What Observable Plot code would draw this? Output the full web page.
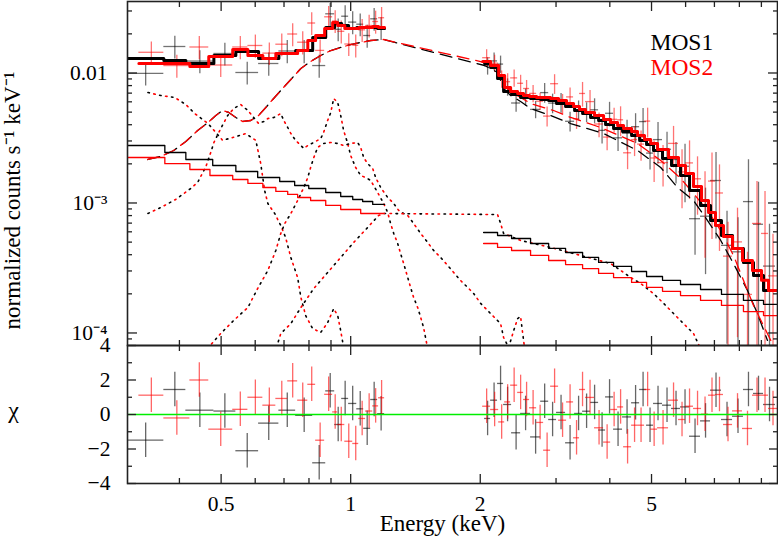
<!DOCTYPE html>
<html><head><meta charset="utf-8">
<script src="https://cdn.jsdelivr.net/npm/d3@7"></script>
<script src="https://cdn.jsdelivr.net/npm/@observablehq/plot@0.6"></script>
<style>
body{margin:0;background:#fff;}
#wrap{position:relative;width:778px;height:540px;overflow:hidden;background:#fff;}
#wrap svg{position:absolute;left:0;overflow:visible;}
#wrap svg, #wrap svg text{font-family:"Liberation Serif","Times New Roman",serif !important;}
</style></head><body><div id="wrap"></div>
<script>
// ---------- axis ticks ----------
const xMajor = [0.5, 1, 2, 5];
const xMinor = [0.4, 0.6, 0.7, 0.8, 0.9, 3, 4, 6, 7, 8, 9];
const yMajorTop = [0.0001, 0.001, 0.01];
const yMinorTop = [0.00009, 0.0002, 0.0003, 0.0004, 0.0005, 0.0006, 0.0007, 0.0008, 0.0009,
  0.002, 0.003, 0.004, 0.005, 0.006, 0.007, 0.008, 0.009, 0.02, 0.03];
const yTopLabels = {"0.0001": "10⁻⁴", "0.001": "10⁻³", "0.01": "0.01"};
const yMajorBot = [-4, -2, 0, 2, 4];
const yMinorBot = [-3, -1, 1, 3];

// ---------- MOS1 data, soft band ----------
const m1LoEdges = [0.303, 0.368, 0.414, 0.481, 0.541, 0.611, 0.681, 0.745, 0.816, 0.875, 0.918, 0.953, 0.989, 1.033, 1.072, 1.113, 1.155, 1.199];
const m1LoModel = [0.01293, 0.01248, 0.01183, 0.01363, 0.01464, 0.01293, 0.01413, 0.01489, 0.01875, 0.02239, 0.02403, 0.02319, 0.02199, 0.02239, 0.02239, 0.02239, 0.02199];
const m1LoRate = [0.00993, 0.01599, 0.01235, 0.01413, 0.01009, 0.01183, 0.01477, 0.01477, 0.01141, 0.02853, 0.02169, 0.02734, 0.02463, 0.02373, 0.01943, 0.02611, 0.02219];
const m1LoErr = [0.0020, 0.0032, 0.0025, 0.0028, 0.0020, 0.0024, 0.0030, 0.0030, 0.0023, 0.0057, 0.0043, 0.0055, 0.0049, 0.0047, 0.0039, 0.0052, 0.0044];
const m1LoChi = [-1.49, 1.45, 0.25, 0.2, -2.1, -0.5, 0.25, -0.05, -2.8, 1.37, -0.58, 0.93, 0.64, 0.33, -0.8, 0.87, 0.05];

// ---------- MOS2 data, soft band ----------
const m2LoEdges = [0.322, 0.368, 0.423, 0.468, 0.532, 0.577, 0.625, 0.670, 0.714, 0.753, 0.795, 0.829, 0.870, 0.908, 0.933, 0.969, 1.011, 1.044, 1.083, 1.125, 1.161, 1.199];
const m2LoModel = [0.01183, 0.01183, 0.01122, 0.01339, 0.01516, 0.01363, 0.01293, 0.01413, 0.01413, 0.01489, 0.01778, 0.01943, 0.02199, 0.02446, 0.02319, 0.02199, 0.02199, 0.02239, 0.02239, 0.02279, 0.02239];
const m2LoRate = [0.01443, 0.01141, 0.01585, 0.01152, 0.01585, 0.01628, 0.01422, 0.01665, 0.01995, 0.01725, 0.02424, 0.01492, 0.02706, 0.02512, 0.02093, 0.01671, 0.01633, 0.02149, 0.02319, 0.02489, 0.02661];
const m2LoErr = [0.0029, 0.0023, 0.0032, 0.0023, 0.0032, 0.0033, 0.0028, 0.0033, 0.0040, 0.0035, 0.0048, 0.0030, 0.0054, 0.0050, 0.0042, 0.0033, 0.0033, 0.0043, 0.0046, 0.0050, 0.0053];
const m2LoChi = [1.12, -0.2, 2.0, -0.85, 0.3, 1.0, 0.54, 0.93, 1.95, 0.83, 1.75, -1.49, 1.17, 0.15, -0.58, -1.55, -1.68, -0.23, 0.2, 0.5, 0.97];

// ---------- MOS1 data, hard band ----------
const m1HiEdges = [2.047, 2.114, 2.194, 2.266, 2.365, 2.482, 2.618, 2.763, 2.884, 3.008, 3.157, 3.313, 3.458, 3.609, 3.767, 3.910, 4.081, 4.282, 4.494, 4.691, 4.869, 5.054, 5.303, 5.565, 5.839, 6.128, 6.499, 6.857, 7.270, 7.713, 8.177, 8.628, 9.103, 9.706];
const m1HiModel = [0.01183, 0.01102, 0.009074, 0.007207, 0.006833, 0.006478, 0.006365, 0.006255, 0.006142, 0.005826, 0.005527, 0.005146, 0.004882, 0.004547, 0.004311, 0.004016, 0.003741, 0.003548, 0.003305, 0.003026, 0.002818, 0.002534, 0.002199, 0.001943, 0.001627, 0.001248, 0.000957, 0.000733, 0.000562, 0.000447, 0.000349, 0.000277, 0.000212];
const m1HiRate = [0.01136, 0.01239, 0.01171, 0.007817, 0.005877, 0.006536, 0.005248, 0.007066, 0.005866, 0.005938, 0.004251, 0.005192, 0.005028, 0.005210, 0.003619, 0.004898, 0.003171, 0.003437, 0.003862, 0.004228, 0.002420, 0.003074, 0.002589, 0.002161, 0.001915, 0.000757, 0.000791, 0.001489, 0.000472, 0.000421, 0.001025, 0.000686, 0.000327];
const m1HiErr = [0.00173, 0.00188, 0.00178, 0.00119, 0.00089, 0.00099, 0.00080, 0.00122, 0.00101, 0.00103, 0.00074, 0.00090, 0.00087, 0.00112, 0.00078, 0.00105, 0.00068, 0.00089, 0.00100, 0.00110, 0.00063, 0.00108, 0.00091, 0.00076, 0.00091, 0.00036, 0.00051, 0.00096, 0.00039, 0.00035, 0.00113, 0.00076, 0.00036];
const m1HiChi = [-0.23, 0.83, 1.8, 0.58, -1.06, 0.06, -1.3, 0.77, -0.29, 0.12, -1.64, 0.06, 0.19, 0.7, -0.9, 1.02, -0.85, -0.14, 0.68, 1.45, -0.62, 0.64, 0.54, 0.35, 0.44, -1.26, -0.37, 1.41, -0.29, -0.1, 1.45, 1.22, 0.58];

// ---------- MOS2 data, hard band ----------
const m2HiEdges = [2.026, 2.114, 2.207, 2.279, 2.353, 2.443, 2.522, 2.604, 2.704, 2.807, 2.914, 3.041, 3.174, 3.295, 3.402, 3.513, 3.686, 3.869, 4.018, 4.170, 4.306, 4.494, 4.640, 4.817, 4.978, 5.164, 5.477, 5.777, 5.998, 6.260, 6.534, 6.783, 7.040, 7.348, 7.713, 8.134, 8.582, 9.006, 9.350, 9.810];
const m2HiModel = [0.01226, 0.01142, 0.009567, 0.007735, 0.007207, 0.006958, 0.006713, 0.006595, 0.006478, 0.006478, 0.006365, 0.006142, 0.005826, 0.005527, 0.005240, 0.004970, 0.004710, 0.004388, 0.004160, 0.003946, 0.003741, 0.003548, 0.003305, 0.003080, 0.002869, 0.002580, 0.002239, 0.001943, 0.001686, 0.001339, 0.001045, 0.000845, 0.000671, 0.000553, 0.000447, 0.000361, 0.000303, 0.000254, 0.000212];
const m2HiRate = [0.01311, 0.01189, 0.009008, 0.008572, 0.009170, 0.008332, 0.007600, 0.006967, 0.006066, 0.004660, 0.008273, 0.005826, 0.006548, 0.004450, 0.006958, 0.006026, 0.004052, 0.003213, 0.004403, 0.004365, 0.002433, 0.003074, 0.002838, 0.004266, 0.002219, 0.002045, 0.002873, 0.001734, 0.002034, 0.001535, 0.001056, 0.001474, 0.001194, 0.000390, 0.000502, 0.000198, 0.000696, 0.000583, 0.000275];
const m2HiErr = [0.00199, 0.00181, 0.00137, 0.00130, 0.00139, 0.00127, 0.00116, 0.00106, 0.00092, 0.00081, 0.00143, 0.00101, 0.00113, 0.00077, 0.00150, 0.00130, 0.00087, 0.00069, 0.00095, 0.00113, 0.00063, 0.00080, 0.00074, 0.00110, 0.00078, 0.00072, 0.00101, 0.00083, 0.00097, 0.00073, 0.00068, 0.00095, 0.00077, 0.00032, 0.00041, 0.00022, 0.00077, 0.00064, 0.00030];
const m2HiChi = [0.48, 0.29, -0.43, 0.73, 1.7, 1.28, 0.87, 0.39, -0.46, -2.07, 1.64, -0.33, 0.73, -1.35, 1.45, 0.99, -0.77, -1.6, 0.29, 0.44, -1.87, -0.62, -0.62, 1.45, -0.85, -0.77, 0.83, -0.29, 0.48, 0.35, 0.02, 1.12, 1.16, -0.58, 0.21, -0.81, 1.12, 1.12, 0.35];

// ---------- power-law components (thin solid steps) ----------
const plM1LoEdges = [0.303, 0.370, 0.414, 0.478, 0.541, 0.608, 0.684, 0.741, 0.799, 0.875, 0.948, 1.011, 1.066, 1.125, 1.199];
const plM1LoVals = [0.002769, 0.002446, 0.002161, 0.001943, 0.001747, 0.001571, 0.001463, 0.001363, 0.001293, 0.001204, 0.001122, 0.001064, 0.001027, 0.000974];
const plM2LoEdges = [0.303, 0.370, 0.423, 0.471, 0.532, 0.577, 0.625, 0.670, 0.714, 0.753, 0.807, 0.875, 0.948, 1.055, 1.199];
const plM2LoVals = [0.002239, 0.002007, 0.001810, 0.001627, 0.001516, 0.001413, 0.001316, 0.001227, 0.001163, 0.001102, 0.001045, 0.000957, 0.000891, 0.000830];
const plHiEdges = [2.036, 2.194, 2.365, 2.618, 2.884, 3.157, 3.458, 3.767, 4.081, 4.494, 4.869, 5.303, 5.839, 6.499, 7.270, 8.177, 9.103, 9.810];
const plM1HiVals = [0.000593, 0.000562, 0.000533, 0.000488, 0.000447, 0.000416, 0.000381, 0.000349, 0.000325, 0.000297, 0.000272, 0.000254, 0.000236, 0.000216, 0.000198, 0.000178, 0.000166];
const plM2HiVals = [0.000488, 0.000455, 0.000431, 0.000395, 0.000361, 0.000336, 0.000313, 0.000287, 0.000267, 0.000245, 0.000224, 0.000209, 0.000194, 0.000178, 0.000163, 0.000146, 0.000136];

// ---------- hot thermal component (dashed): [energy, value] ----------
const hotLo = [[0.338, 0.002161], [0.362, 0.002279], [0.388, 0.002534], [0.414, 0.002972], [0.441, 0.003612], [0.466, 0.004160], [0.486, 0.004710], [0.504, 0.005146], [0.521, 0.004970], [0.541, 0.004547], [0.561, 0.004235], [0.586, 0.004311], [0.611, 0.004710], [0.635, 0.005428], [0.659, 0.006255], [0.688, 0.007336], [0.726, 0.008913], [0.766, 0.010830], [0.807, 0.012260], [0.852, 0.013630], [0.899, 0.014890], [0.948, 0.015710], [1.0, 0.016560], [1.055, 0.017170], [1.113, 0.017780], [1.193, 0.018100]];
const hotHiM1 = [[2.047, 0.011420], [2.194, 0.010090], [2.266, 0.007600], [2.353, 0.006713], [2.482, 0.006036], [2.618, 0.005331], [2.914, 0.004710], [3.244, 0.004087], [3.869, 0.003424], [4.640, 0.002534], [5.252, 0.001875], [5.747, 0.001316], [6.260, 0.001045], [6.748, 0.000733], [7.241, 0.000515], [7.752, 0.000342], [8.356, 0.000212], [8.814, 0.000141], [9.298, 0.0000876]];
const hotHiM2 = [[2.047, 0.012040], [2.194, 0.010640], [2.266, 0.008155], [2.353, 0.007207], [2.618, 0.005826], [2.961, 0.005146], [3.244, 0.004547], [3.809, 0.003808], [4.640, 0.002869], [5.252, 0.002123], [5.845, 0.001543], [6.260, 0.001183], [6.748, 0.000876], [7.241, 0.000614], [7.752, 0.000395], [8.177, 0.000254], [8.628, 0.000163], [9.465, 0.0000876]];

// ---------- soft thermal components (dotted): [energy, value] ----------
const compLHB = [[0.338, 0.00708], [0.362, 0.00671], [0.390, 0.00648], [0.414, 0.00572], [0.434, 0.00488], [0.466, 0.00409], [0.486, 0.00349], [0.504, 0.00303], [0.532, 0.00319], [0.570, 0.00342], [0.602, 0.00303], [0.618, 0.00201], [0.631, 0.00125], [0.642, 0.000991], [0.666, 0.000830], [0.688, 0.000671], [0.706, 0.000543], [0.726, 0.000381], [0.753, 0.000267], [0.766, 0.000188], [0.786, 0.000136], [0.816, 0.000108], [0.852, 0.000101], [0.884, 0.000120], [0.913, 0.000154], [0.933, 0.000136], [0.948, 0.000104], [0.968, 0.00007]];
const compMWH = [[0.338, 0.000830], [0.362, 0.000923], [0.392, 0.001064], [0.425, 0.001293], [0.441, 0.001438], [0.461, 0.001909], [0.473, 0.002446], [0.481, 0.002920], [0.499, 0.003741], [0.518, 0.004710], [0.535, 0.005331], [0.555, 0.005723], [0.577, 0.005146], [0.595, 0.004547], [0.611, 0.004087], [0.628, 0.004235], [0.642, 0.004467], [0.663, 0.004547], [0.688, 0.004882], [0.699, 0.004311], [0.714, 0.003808], [0.726, 0.003424], [0.745, 0.003029], [0.766, 0.002769], [0.778, 0.002626], [0.795, 0.002769], [0.821, 0.002920], [0.852, 0.003134], [0.865, 0.003490], [0.884, 0.004311], [0.899, 0.004970], [0.913, 0.006365], [0.933, 0.005930], [0.948, 0.004710], [0.963, 0.003612], [0.984, 0.002869], [1.0, 0.002319], [1.027, 0.001875], [1.055, 0.001627], [1.083, 0.001571], [1.113, 0.001489], [1.155, 0.001204], [1.193, 0.000991], [1.219, 0.000845], [1.238, 0.000696], [1.259, 0.000583], [1.286, 0.000488], [1.306, 0.000409], [1.328, 0.000342], [1.357, 0.000267], [1.378, 0.000224], [1.400, 0.000188], [1.431, 0.000157], [1.454, 0.000132], [1.477, 0.000110], [1.517, 0.00007]];
const compHalo = [[0.465, 0.000076], [0.499, 0.0000991], [0.535, 0.000125], [0.577, 0.000157], [0.608, 0.000220], [0.642, 0.000303], [0.670, 0.000431], [0.688, 0.000583], [0.703, 0.000696], [0.726, 0.000830], [0.753, 0.001045], [0.778, 0.001316], [0.795, 0.001571], [0.807, 0.001875], [0.821, 0.002239], [0.838, 0.002673], [0.865, 0.002869], [0.899, 0.002920], [0.933, 0.002869], [0.963, 0.002769], [1.0, 0.002869], [1.038, 0.002920], [1.055, 0.002673], [1.072, 0.002239], [1.095, 0.002007], [1.125, 0.001842], [1.143, 0.001571], [1.174, 0.001316], [1.219, 0.001102], [1.259, 0.000991], [1.293, 0.000876], [1.328, 0.000830], [1.357, 0.000801], [1.400, 0.000696], [1.454, 0.000583], [1.510, 0.000497], [1.559, 0.000431], [1.618, 0.000381], [1.680, 0.000331], [1.735, 0.000292], [1.801, 0.000253], [1.870, 0.000224], [1.931, 0.000201], [2.004, 0.000169], [2.114, 0.000141], [2.230, 0.000118], [2.266, 0.0000923], [2.328, 0.0000775], [2.391, 0.000104], [2.443, 0.000129], [2.482, 0.000134], [2.508, 0.000101], [2.536, 0.000076]];
const compWarm = [[0.666, 0.00007], [0.688, 0.0000991], [0.726, 0.000118], [0.766, 0.000157], [0.821, 0.000220], [0.884, 0.000292], [0.948, 0.000381], [1.016, 0.000497], [1.095, 0.000648], [1.161, 0.000801], [1.193, 0.000830], [2.194, 0.000815], [2.230, 0.000696], [2.266, 0.000583], [2.482, 0.000515], [2.914, 0.000455], [3.422, 0.000395], [4.018, 0.000342], [4.239, 0.000303], [4.473, 0.000267], [4.718, 0.000240], [5.054, 0.000201], [5.334, 0.000169], [5.627, 0.000141], [5.935, 0.000118], [6.260, 0.0000991], [6.570, 0.00007]];

// ---------- helpers ----------
const FONT = "'Liberation Serif', 'Times New Roman', serif";
const xDomain = [0.303, 9.81];
const steps = (edges, vals) => edges.map((e, i) => ({x: e, y: vals[Math.min(i, vals.length - 1)]}));
const bins = (edges, rate, err, chi) => rate.map((r, i) => ({lo: edges[i], hi: edges[i + 1], x: Math.sqrt(edges[i] * edges[i + 1]), rate: r, err: err[i], chi: chi[i]}));
const m1Lo = bins(m1LoEdges, m1LoRate, m1LoErr, m1LoChi);
const m2Lo = bins(m2LoEdges, m2LoRate, m2LoErr, m2LoChi);
const m1Hi = bins(m1HiEdges, m1HiRate, m1HiErr, m1HiChi);
const m2Hi = bins(m2HiEdges, m2HiRate, m2HiErr, m2HiChi);
const BLK = "#000", RED = "#ff0000";
const AX = "#222";

function crossesTop(data, color) {
  return [
    Plot.ruleY(data, {y: "rate", x1: "lo", x2: "hi", stroke: color, strokeOpacity: 0.55, strokeWidth: 1.3, clip: true}),
    Plot.ruleX(data, {x: "x", y1: d => Math.max(d.rate - d.err, 1e-7), y2: d => d.rate + d.err, stroke: color, strokeOpacity: 0.55, strokeWidth: 1.3, clip: true})
  ];
}
function crossesBot(data, color) {
  return [
    Plot.ruleY(data, {y: "chi", x1: "lo", x2: "hi", stroke: color, strokeOpacity: 0.6, strokeWidth: 1.3, clip: true}),
    Plot.ruleX(data, {x: "x", y1: d => d.chi - 1, y2: d => d.chi + 1, stroke: color, strokeOpacity: 0.6, strokeWidth: 1.3, clip: true})
  ];
}
const stepLine = (edges, vals, color, w) => Plot.line(steps(edges, vals), {x: "x", y: "y", curve: "step-after", stroke: color, strokeWidth: w, clip: true});
const dotted = (arr, color, off) => Plot.line(arr, {x: d => d[0], y: d => d[1], stroke: color, strokeWidth: 1.6, strokeDasharray: "1.5,10.5", strokeDashoffset: off, clip: true});
const dashed = (arr, color, off) => Plot.line(arr, {x: d => d[0], y: d => d[1], stroke: color, strokeWidth: 1.3, strokeDasharray: "12,7", strokeDashoffset: off, clip: true});
const blank = () => "";

function xTicks() {
  const o = {stroke: AX, strokeWidth: 1.3, label: null, tickFormat: blank};
  return [
    Plot.axisX(xMajor, {...o, anchor: "top", tickSize: -9}),
    Plot.axisX(xMinor, {...o, anchor: "top", tickSize: -5}),
    Plot.axisX(xMinor, {...o, anchor: "bottom", tickSize: -5})
  ];
}

// ---------- upper panel ----------
const topPlot = Plot.plot({
  width: 778, height: 345, marginLeft: 127, marginRight: 1, marginTop: 1, marginBottom: 0,
  style: {fontFamily: FONT, fontSize: "21px", background: "transparent", overflow: "visible"},
  x: {type: "log", domain: xDomain},
  y: {type: "log", domain: [0.0000801, 0.03548]},
  marks: [
    ...crossesTop(m1Lo, BLK), ...crossesTop(m1Hi, BLK),
    ...crossesTop(m2Lo, RED), ...crossesTop(m2Hi, RED),
    dotted(compLHB, BLK, 0), dotted(compLHB, RED, 6),
    dotted(compMWH, BLK, 0), dotted(compMWH, RED, 6),
    dotted(compHalo, BLK, 0), dotted(compHalo, RED, 6),
    dotted(compWarm, BLK, 0), dotted(compWarm, RED, 6),
    dashed(hotLo.concat(hotHiM1), BLK, 0), dashed(hotLo.concat(hotHiM2), RED, 2),
    stepLine(plM1LoEdges, plM1LoVals, BLK, 1.3), stepLine(plHiEdges, plM1HiVals, BLK, 1.3),
    stepLine(plM2LoEdges, plM2LoVals, RED, 1.3), stepLine(plHiEdges, plM2HiVals, RED, 1.3),
    stepLine(m1LoEdges, m1LoModel, BLK, 3), stepLine(m1HiEdges, m1HiModel, BLK, 3),
    stepLine(m2LoEdges, m2LoModel, RED, 3), stepLine(m2HiEdges, m2HiModel, RED, 3),
    Plot.frame({stroke: AX, strokeWidth: 1.6}),
    Plot.axisY(yMajorTop, {anchor: "left", tickSize: -10, tickPadding: 30, stroke: AX, strokeWidth: 1.3, fontSize: 21.5, label: null, tickFormat: d => yTopLabels[String(d)]}),
    Plot.axisY(yMinorTop, {anchor: "left", tickSize: -5, stroke: AX, strokeWidth: 1.3, label: null, tickFormat: blank}),
    Plot.axisY(yMajorTop, {anchor: "right", tickSize: -10, stroke: AX, strokeWidth: 1.3, label: null, tickFormat: blank}),
    Plot.axisY(yMinorTop, {anchor: "right", tickSize: -5, stroke: AX, strokeWidth: 1.3, label: null, tickFormat: blank}),
    Plot.axisX(xMajor, {anchor: "bottom", tickSize: -9, stroke: AX, strokeWidth: 1.3, label: null, tickFormat: blank}),
    ...xTicks(),
    Plot.text(["normalized counts s⁻¹ keV⁻¹"], {frameAnchor: "left", dx: -115, dy: 27, rotate: -90, textAnchor: "middle", fontSize: 23}),
    Plot.text(["MOS1"], {frameAnchor: "top-left", dx: 523, dy: 32, textAnchor: "start", fill: BLK, fontSize: 23.5}),
    Plot.text(["MOS2"], {frameAnchor: "top-left", dx: 523, dy: 57, textAnchor: "start", fill: RED, fontSize: 23.5})
  ]
});

// ---------- residual panel ----------
const botPlot = Plot.plot({
  width: 778, height: 195, marginLeft: 127, marginRight: 1, marginTop: 0, marginBottom: 57,
  style: {fontFamily: FONT, fontSize: "21px", background: "transparent", overflow: "visible"},
  x: {type: "log", domain: xDomain},
  y: {domain: [-4, 4]},
  marks: [
    ...crossesBot(m1Lo, BLK), ...crossesBot(m1Hi, BLK),
    ...crossesBot(m2Lo, RED), ...crossesBot(m2Hi, RED),
    Plot.ruleY([0], {stroke: "#00ee00", strokeWidth: 1.5}),
    Plot.frame({stroke: AX, strokeWidth: 1.6}),
    Plot.axisY(yMajorBot, {anchor: "left", tickSize: -9, tickPadding: 26, stroke: AX, strokeWidth: 1.3, fontSize: 21.5, label: null, tickFormat: d => d < 0 ? "−" + Math.abs(d) : String(d)}),
    Plot.axisY(yMinorBot, {anchor: "left", tickSize: -5, stroke: AX, strokeWidth: 1.3, label: null, tickFormat: blank}),
    Plot.axisY(yMajorBot, {anchor: "right", tickSize: -9, stroke: AX, strokeWidth: 1.3, label: null, tickFormat: blank}),
    Plot.axisY(yMinorBot, {anchor: "right", tickSize: -5, stroke: AX, strokeWidth: 1.3, label: null, tickFormat: blank}),
    Plot.axisX(xMajor, {anchor: "bottom", tickSize: -9, tickPadding: 21, stroke: AX, strokeWidth: 1.3, fontSize: 21.5, label: null, tickFormat: d => String(d)}),
    ...xTicks(),
    Plot.text(["χ"], {frameAnchor: "left", dx: -114, dy: -4, textAnchor: "middle", fontSize: 24}),
    Plot.text(["Energy (keV)"], {frameAnchor: "bottom", dx: -10, dy: 47, textAnchor: "middle", fontSize: 23})
  ]
});

const wrap = document.getElementById("wrap");
topPlot.style.top = "0px";
botPlot.style.top = "345px";
wrap.appendChild(topPlot);
wrap.appendChild(botPlot);
</script></body></html>
